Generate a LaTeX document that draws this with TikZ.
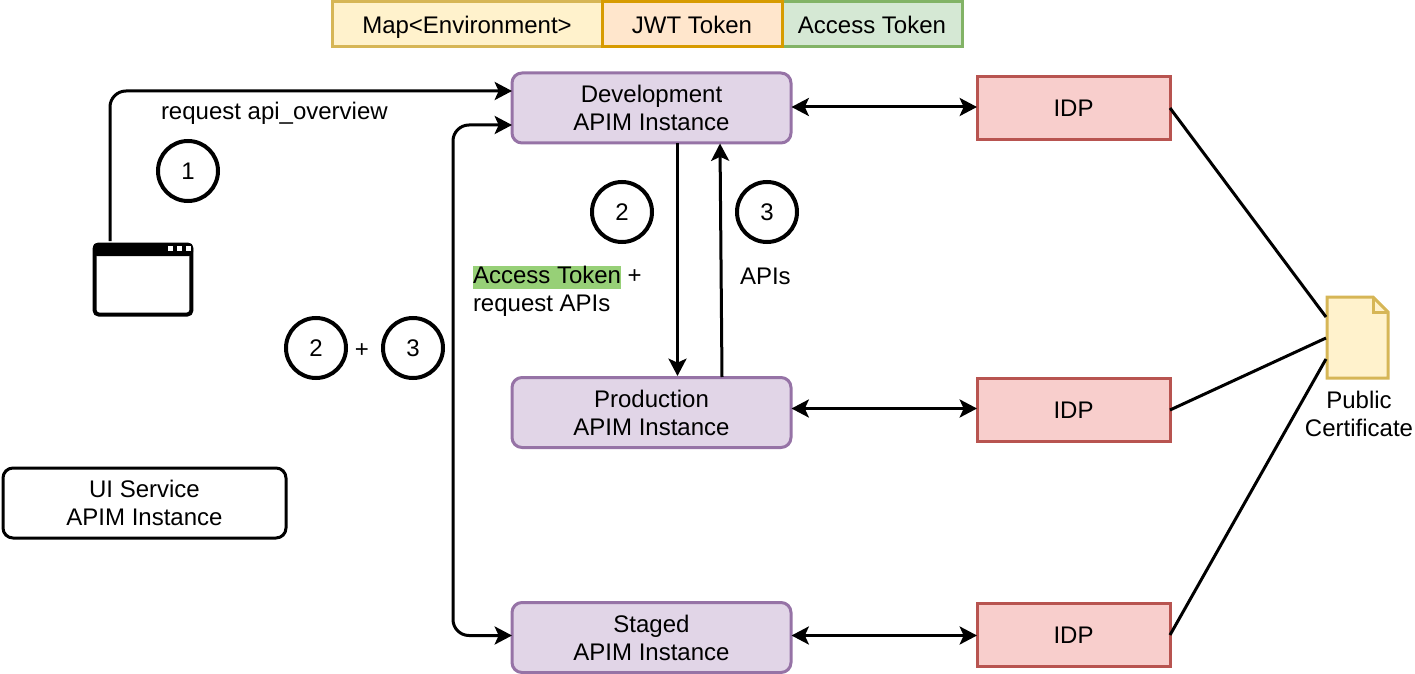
\documentclass[tikz,border=0pt]{standalone}
\usepackage{fontspec}
\setmainfont{Liberation Sans}
\usetikzlibrary{arrows.meta,positioning}
\definecolor{yf}{HTML}{FFF2CC}\definecolor{ys}{HTML}{D6B656}
\definecolor{of}{HTML}{FFE6CC}\definecolor{os}{HTML}{D79B00}
\definecolor{gf}{HTML}{D5E8D4}\definecolor{gs}{HTML}{82B366}
\definecolor{pf}{HTML}{E1D5E7}\definecolor{ps}{HTML}{9673A6}
\definecolor{rf}{HTML}{F8CECC}\definecolor{rs}{HTML}{B85450}
\definecolor{hl}{HTML}{97D077}
\tikzset{
  x=0.75pt,y=-0.75pt,
  tip/.tip={Stealth[length=13pt,width=13.5pt,inset=3pt]},
  every node/.style={font=\fontsize{18pt}{21pt}\selectfont,inner sep=0pt,outer sep=0pt},
  legend/.style={draw=#1,line width=2.25pt,minimum height=33.75pt,anchor=center,text depth=0pt,text height=13.5pt},
  inst/.style={draw=ps,fill=pf,line width=2.25pt,rounded corners=7.5pt,minimum width=209.25pt,minimum height=52.5pt,align=center},
  idp/.style={draw=rs,fill=rf,line width=2.25pt,minimum width=144.75pt,minimum height=47.5pt},
  num/.style={circle,draw=black,line width=3pt,minimum size=45pt},
  lbl/.style={align=left,anchor=west},
  conn/.style={line width=2.25pt,draw=black},
  arr/.style={conn,-{tip}},
  darr/.style={conn,{tip}-{tip}},
}
\begin{document}
\begin{tikzpicture}
\useasboundingbox (0,0) rectangle (1415,674);
% legend
\node[legend=ys,fill=yf,minimum width=202.5pt] (lmap) at (467,24.5) {Map<Environment>};
\node[legend=gs,fill=gf,minimum width=135pt] (lacc) at (872,24.5) {Access Token};
\node[legend=os,fill=of,minimum width=135pt] (ljwt) at (692,24.5) {JWT Token};
% instances
\node[inst] (dev) at (651.5,108) {Development\\APIM Instance};
\node[inst] (prod) at (651.5,412.5) {Production\\APIM Instance};
\node[inst] (stag) at (651.5,637.5) {Staged\\APIM Instance};
\node[inst,draw=black,fill=white,minimum width=212.25pt] (ui) at (144.5,503) {UI Service\\APIM Instance};
% idps
\node[idp] (idp1) at (1073.5,108) {IDP};
\node[idp] (idp2) at (1073.5,410) {IDP};
\node[idp] (idp3) at (1073.5,635) {IDP};
% certificate
\path[fill=yf,draw=ys,line width=2.25pt,line join=miter]
  (1327,297) -- (1373,297) -- (1388,312) -- (1388,378) -- (1327,378) -- cycle;
\path[draw=ys,line width=2.25pt] (1373,297) -- (1373,312) -- (1388,312);
\node[minimum width=46pt,minimum height=61pt] (cert) at (1357.5,337.5) {};
\node[align=center] (certl) at (1359,414) {Public\\Certificate};
% browser
\node[draw=black,fill=white,line width=3pt,rounded corners=3pt,minimum width=72.5pt,minimum height=52.5pt] (browser) at (143,279.5) {};
\path[fill=black,rounded corners=3pt] (93,243) -- (193,243) -- (193,256) -- (93,256) -- cycle;
\foreach \sx in {168,177,186}{\fill[white] (\sx,246) rectangle +(5,5);}
% circles
\node[num] (c1) at (188,171) {1};
\node[num] (c2) at (622,212) {2};
\node[num] (c3) at (767,212) {3};
\node[num] (c4) at (316,348) {2};
\node[num] (c5) at (413,348) {3};
\node (plus) at (362,351) {+};
% labels
\node[lbl] (t1) at (161,113) {request api\_overview};
\node[lbl] (t2) at (473,291) {\setlength{\fboxsep}{0pt}\colorbox{hl}{\rule[-4.5pt]{0pt}{17.5pt}Access Token} +\\request APIs};
\node[lbl] (t3) at (740,276) {APIs};
% connectors
\coordinate (b1) at (110,241);
\coordinate (d1) at (dev.west|-0,91);
\coordinate (d2) at (dev.west|-0,125);
\coordinate (s1) at (stag.west|-0,635.5);
\coordinate (dp1) at (677.5,143.5);
\coordinate (pp1) at (677.5,376);
\coordinate (pp2) at (722,377);
\coordinate (dp2) at (720,143.5);
\coordinate (ce1) at (1326,317);
\coordinate (ce2) at (1326,338);
\coordinate (ce3) at (1326,359);
\coordinate (a1l) at (791.5,107);
\coordinate (a1r) at (977,107);
\coordinate (a2l) at (791.5,408.5);
\coordinate (a2r) at (977,408.5);
\coordinate (a3l) at (791.5,635.5);
\coordinate (a3r) at (977,635.5);
\draw[arr,rounded corners=12pt] (b1) |- (d1);
\draw[darr,rounded corners=12pt] (d2) -- (453,125) -- (453,635.5) -- (s1);
\draw[arr] (dp1) -- (pp1);
\draw[arr] (pp2) -- (dp2);
\draw[darr] (a1l) -- (a1r);
\draw[darr] (a2l) -- (a2r);
\draw[darr] (a3l) -- (a3r);
\draw[conn] (idp1.east) -- (ce1);
\draw[conn] (idp2.east) -- (ce2);
\draw[conn] (idp3.east) -- (ce3);
\end{tikzpicture}
\end{document}
